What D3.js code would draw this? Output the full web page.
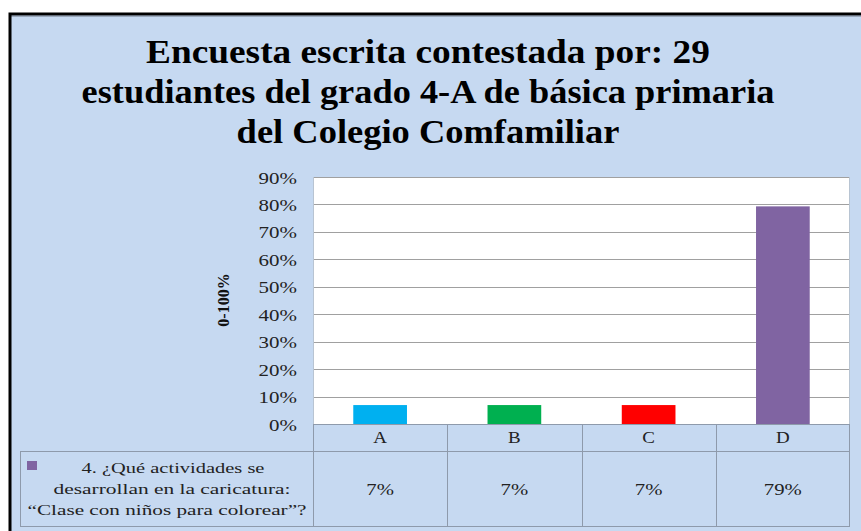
<!DOCTYPE html>
<html>
<head>
<meta charset="utf-8">
<script src="https://cdn.jsdelivr.net/npm/d3@7"></script>
<style>
  html, body { margin: 0; padding: 0; background: #fff; }
  svg { display: block; }
</style>
</head>
<body>
<svg id="chart" width="861" height="531"></svg>
<script>
// Data
const titleLines = [
    "Encuesta escrita contestada  por: 29",
    "estudiantes del grado 4-A de básica primaria",
    "del Colegio Comfamiliar"
];
const categories = ["A", "B", "C", "D"];
const values = [0.069, 0.069, 0.069, 0.793];
const barColors = ["#00b0f0", "#00b050", "#ff0000", "#8064a2"];
const seriesColor = "#8064a2";
const seriesLabel = ["4. ¿Qué actividades se", "desarrollan en la caricatura:", "“Clase con niños para colorear”?"];
const yTicks = [0, 0.1, 0.2, 0.3, 0.4, 0.5, 0.6, 0.7, 0.8, 0.9];
const yTitle = "0-100%";

const svg = d3.select("#chart");
const W = 861, H = 531;
const bg = "#c6d9f1";
const gridColor = "#a0a0a0";
const tableColor = "#8e9aab";
const serif = "Liberation Serif";

// place a text at (px, py) and squeeze/stretch it horizontally with a transform
function placeScaled(sel, pos, target) {
    sel.each(function (d, i) {
        const w = this.getComputedTextLength();
        const t = typeof target === "function" ? target(w, i) : target;
        const [px, py] = pos(d, i);
        d3.select(this)
            .attr("x", 0).attr("y", 0)
            .attr("transform", `translate(${px},${py}) scale(${t / w},1)`);
    });
}

// background and frame (only top and left edge of the frame are in view)
svg.append("rect").attr("width", W).attr("height", H).attr("fill", "#fff");
svg.append("rect").attr("x", 10).attr("y", 14).attr("width", W - 10).attr("height", H - 14).attr("fill", bg);
svg.append("line").attr("x1", 10).attr("x2", W).attr("y1", 16.5).attr("y2", 16.5).attr("stroke", "#9aa8bb");
svg.append("path")
    .attr("d", `M10,${H} V14 H${W}`)
    .attr("fill", "none").attr("stroke", "#000").attr("stroke-width", 3);

// Title
const titleWidths = [564, 693, 383];
svg.append("g").attr("class", "title").selectAll("text")
    .data(titleLines)
    .enter().append("text")
    .attr("text-anchor", "middle")
    .style("font-family", serif)
    .style("font-size", "33px")
    .style("font-weight", "bold")
    .style("fill", "#000")
    .text(d => d)
    .call(placeScaled, (d, i) => [428, 63 + i * 40], (w, i) => titleWidths[i]);

// Plot area
const plot = { left: 313, right: 850, top: 177, bottom: 424 };

const x = d3.scaleBand()
    .domain(categories)
    .range([plot.left, plot.right]);

const xBar = d3.scaleBand()
    .domain(categories)
    .range([plot.left, plot.right])
    .paddingInner(0.6)
    .paddingOuter(0.3);

const y = d3.scaleLinear()
    .domain([0, 0.9])
    .range([plot.bottom, plot.top]);

svg.append("rect")
    .attr("x", plot.left).attr("y", plot.top)
    .attr("width", plot.right - plot.left).attr("height", plot.bottom - plot.top)
    .attr("fill", "#fff");

// gridlines
svg.append("g")
    .selectAll("line")
    .data(yTicks)
    .enter().append("line")
    .attr("x1", plot.left).attr("x2", plot.right)
    .attr("y1", d => Math.round(y(d)) + 0.5).attr("y2", d => Math.round(y(d)) + 0.5)
    .attr("stroke", gridColor).attr("stroke-width", 1);

// plot area sides
svg.append("line")
    .attr("x1", plot.left + 0.5).attr("x2", plot.left + 0.5)
    .attr("y1", plot.top).attr("y2", plot.bottom)
    .attr("stroke", "#b8c4d2");
svg.append("line")
    .attr("x1", plot.right - 0.5).attr("x2", plot.right - 0.5)
    .attr("y1", plot.top).attr("y2", plot.bottom)
    .attr("stroke", "#b8c4d2");

// y axis labels
const yAxis = d3.axisLeft(y)
    .tickValues(yTicks)
    .tickFormat(d3.format(".0%"))
    .tickSize(0)
    .tickPadding(16);

const yAxisG = svg.append("g")
    .attr("transform", `translate(${plot.left},0)`)
    .call(yAxis);
yAxisG.select(".domain").remove();
yAxisG.selectAll("text")
    .style("font-family", serif)
    .style("font-size", "16.5px")
    .style("fill", "#222")
    .attr("dy", null)
    .call(placeScaled, () => [-16, 6], w => w * 1.27);

// y title
svg.append("text")
    .attr("transform", `translate(229,300) rotate(-90)`)
    .attr("text-anchor", "middle")
    .style("font-family", serif)
    .style("font-size", "16px")
    .style("font-weight", "bold")
    .style("fill", "#111")
    .text(yTitle);

// bars
svg.append("g")
    .selectAll("rect")
    .data(values)
    .enter().append("rect")
    .attr("x", (d, i) => xBar(categories[i]))
    .attr("width", xBar.bandwidth())
    .attr("y", d => y(d))
    .attr("height", d => y(0) - y(d))
    .attr("fill", (d, i) => barColors[i]);

// data table
const rowTop = plot.bottom, rowMid = 451, rowBot = 526;
const legendLeft = 20;
const table = svg.append("g").attr("fill", "none").attr("stroke", tableColor).attr("stroke-width", 1);

table.append("line").attr("x1", plot.left).attr("x2", plot.right).attr("y1", rowTop + 0.5).attr("y2", rowTop + 0.5);
table.append("line").attr("x1", legendLeft).attr("x2", plot.right).attr("y1", rowMid + 0.5).attr("y2", rowMid + 0.5);
table.append("line").attr("x1", legendLeft).attr("x2", plot.right).attr("y1", rowBot + 0.5).attr("y2", rowBot + 0.5);
table.append("line").attr("x1", legendLeft + 0.5).attr("x2", legendLeft + 0.5).attr("y1", rowMid).attr("y2", rowBot);
table.selectAll(".vline")
    .data(categories.concat(["end"]))
    .enter().append("line")
    .attr("class", "vline")
    .attr("x1", d => d === "end" ? plot.right - 0.5 : Math.round(x(d)) + 0.5)
    .attr("x2", d => d === "end" ? plot.right - 0.5 : Math.round(x(d)) + 0.5)
    .attr("y1", rowTop).attr("y2", rowBot);

// category headers
svg.append("g")
    .selectAll("text")
    .data(categories)
    .enter().append("text")
    .attr("text-anchor", "middle")
    .style("font-family", serif)
    .style("font-size", "16.5px")
    .style("fill", "#222")
    .text(d => d)
    .call(placeScaled, d => [x(d) + x.bandwidth() / 2, 443], w => w * 1.15);

// values row
svg.append("g")
    .selectAll("text")
    .data(values)
    .enter().append("text")
    .attr("text-anchor", "middle")
    .style("font-family", serif)
    .style("font-size", "17px")
    .style("fill", "#222")
    .text(d => d3.format(".0%")(d))
    .call(placeScaled, (d, i) => [x(categories[i]) + x.bandwidth() / 2, 495], w => w * 1.22);

// legend cell
svg.append("rect")
    .attr("x", 27).attr("y", 461)
    .attr("width", 10).attr("height", 9)
    .attr("fill", seriesColor);

const legendWidths = [183, 237, 279];
svg.append("g")
    .selectAll("text")
    .data(seriesLabel)
    .enter().append("text")
    .attr("text-anchor", "middle")
    .style("font-family", serif)
    .style("font-size", "15.5px")
    .style("fill", "#222")
    .text(d => d)
    .call(placeScaled, (d, i) => [[173, 172, 167][i], 473 + i * 21], (w, i) => legendWidths[i]);
</script>
</body>
</html>
